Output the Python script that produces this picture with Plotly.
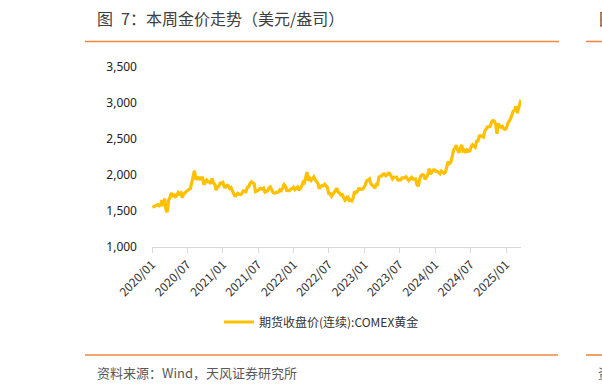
import pandas as pd
import plotly.graph_objects as go

# Weekly (Friday) COMEX gold continuous futures close, USD/oz
v2020 = [1552, 1562, 1560, 1572, 1589,
         1572, 1584, 1649, 1566,
         1674, 1516, 1484, 1654,
         1690, 1752, 1698, 1736,
         1700, 1713, 1756, 1735, 1751,
         1683, 1737, 1753, 1781,
         1790, 1802, 1811, 1897, 1986,
         2060, 1949, 1947, 1975,
         1934, 1962, 1962, 1866,
         1907, 1930, 1906, 1905, 1879,
         1952, 1889, 1872, 1788,
         1840, 1843, 1888, 1883]
v2021 = [1895, 1835, 1830, 1856, 1850,
         1813, 1824, 1777, 1734,
         1699, 1727, 1745, 1732,
         1729, 1744, 1780, 1777, 1768,
         1831, 1838, 1881, 1906,
         1892, 1879, 1769, 1781,
         1784, 1811, 1815, 1802, 1817,
         1763, 1780, 1784, 1820,
         1833, 1791, 1754, 1750,
         1757, 1757, 1767, 1796, 1783,
         1817, 1868, 1846, 1788,
         1784, 1784, 1805, 1811, 1829]
v2022 = [1797, 1817, 1833, 1785,
         1807, 1842, 1899, 1890,
         1967, 2040, 1921, 1954,
         1925, 1945, 1975, 1934, 1911,
         1883, 1810, 1842, 1851,
         1850, 1871, 1838, 1826,
         1742, 1741, 1703, 1727, 1768,
         1791, 1816, 1762, 1749,
         1721, 1728, 1683, 1650, 1672,
         1709, 1648, 1656, 1640,
         1681, 1771, 1754, 1768,
         1809, 1810, 1800, 1804, 1826]
v2023 = [1869, 1921, 1929, 1945,
         1877, 1865, 1843, 1817,
         1868, 1867, 1973, 1983, 1986,
         2011, 2015, 1990, 1999,
         2025, 2019, 1981, 1946,
         1969, 1970, 1971, 1930, 1929,
         1932, 1961, 1964, 1960,
         1976, 1946, 1923, 1947,
         1967, 1943, 1946, 1945, 1866,
         1845, 1941, 1994, 2006,
         1999, 1940, 1984, 2003,
         2089, 2014, 2036, 2069, 2071]
v2024 = [2050, 2051, 2029, 2018,
         2054, 2038, 2024, 2039,
         2096, 2186, 2161, 2179, 2254,
         2345, 2374, 2413, 2347,
         2309, 2375, 2417, 2334, 2345,
         2310, 2349, 2331, 2336,
         2397, 2421, 2399, 2385,
         2470, 2472, 2541, 2546, 2537,
         2526, 2611, 2646, 2668,
         2667, 2676, 2736, 2756,
         2750, 2707, 2571, 2716, 2681,
         2663, 2677, 2642, 2635]
v2025 = [2654, 2716, 2748, 2779, 2835,
         2887, 2901, 2954, 2859,
         2915, 3001]
last_date = "2025-03-18"
last_value = 3045

series_name = "期货收盘价(连续):COMEX黄金"
title_text = "图\u20027：本周金价走势（美元/盎司）"
source_text = "资料来源：Wind，天风证券研究所"
y_ticks = [1000, 1500, 2000, 2500, 3000, 3500]
x_tick_dates = ["2020-01-01", "2020-07-01", "2021-01-01", "2021-07-01", "2022-01-01",
                "2022-07-01", "2023-01-01", "2023-07-01", "2024-01-01", "2024-07-01",
                "2025-01-01"]
x_tick_labels = ["2020/01", "2020/07", "2021/01", "2021/07", "2022/01", "2022/07",
                 "2023/01", "2023/07", "2024/01", "2024/07", "2025/01"]

weekly = v2020 + v2021 + v2022 + v2023 + v2024 + v2025
dates = list(pd.date_range("2020-01-03", periods=len(weekly), freq="7D")) + [pd.Timestamp(last_date)]
values = weekly + [last_value]

W, H = 602, 391
def px(x):
    return x / W
def py(y):
    return 1 - y / H

CJK = "Noto Sans CJK SC"
fig = go.Figure()
fig.add_trace(go.Scatter(x=dates, y=values, mode="lines", name=series_name,
                         line=dict(color="#FFC000", width=3.2)))

fig.update_layout(
    width=W, height=H,
    margin=dict(l=0, r=0, t=0, b=0),
    paper_bgcolor="white", plot_bgcolor="white",
    font=dict(family=CJK, size=12, color="#333333"),
    showlegend=True,
    legend=dict(orientation="h", x=px(219), y=py(322), xanchor="left", yanchor="middle",
                font=dict(family=CJK, size=12, color="#333333"),
                bgcolor="rgba(0,0,0,0)"),
    xaxis=dict(domain=[px(152), px(521)], type="date",
               range=["2020-01-01", "2025-03-19"],
               tickvals=x_tick_dates, ticktext=x_tick_labels, tickangle=-45,
               showgrid=False, zeroline=False,
               showline=True, linecolor="#d9d9d9", linewidth=1,
               ticks="outside", ticklen=5, tickcolor="#d9d9d9",
               tickfont=dict(family=CJK, size=12, color="#333333"),
               automargin=False),
    yaxis=dict(domain=[py(247), py(67)], range=[1000, 3500],
               tickvals=y_ticks, tickformat=",d",
               showgrid=False, zeroline=False, showline=False,
               ticks="", ticklabelstandoff=14,
               tickfont=dict(family="Noto Sans", size=12, color="#222222"),
               automargin=False),
)

orange = "#F0883E"
for (x0, x1, y) in [(85, 559, 41.5), (586, 603, 41.5), (85, 558, 355), (586, 603, 355)]:
    fig.add_shape(type="line", xref="paper", yref="paper",
                  x0=px(x0), x1=px(x1), y0=py(y), y1=py(y),
                  line=dict(color=orange, width=1.6))

fig.add_annotation(text=title_text, xref="paper", yref="paper", x=px(95), y=py(18),
                   xanchor="left", yanchor="middle", showarrow=False,
                   font=dict(family=CJK, size=16, color="#404040"))
fig.add_annotation(text="图", xref="paper", yref="paper", x=px(597), y=py(18),
                   xanchor="left", yanchor="middle", showarrow=False,
                   font=dict(family=CJK, size=16, color="#404040"))
fig.add_annotation(text=source_text, xref="paper", yref="paper", x=px(95), y=py(372),
                   xanchor="left", yanchor="middle", showarrow=False,
                   font=dict(family=CJK, size=13, color="#595959"))
fig.add_annotation(text="资", xref="paper", yref="paper", x=px(596), y=py(372),
                   xanchor="left", yanchor="middle", showarrow=False,
                   font=dict(family=CJK, size=13, color="#595959"))

fig.write_html("out.html")
